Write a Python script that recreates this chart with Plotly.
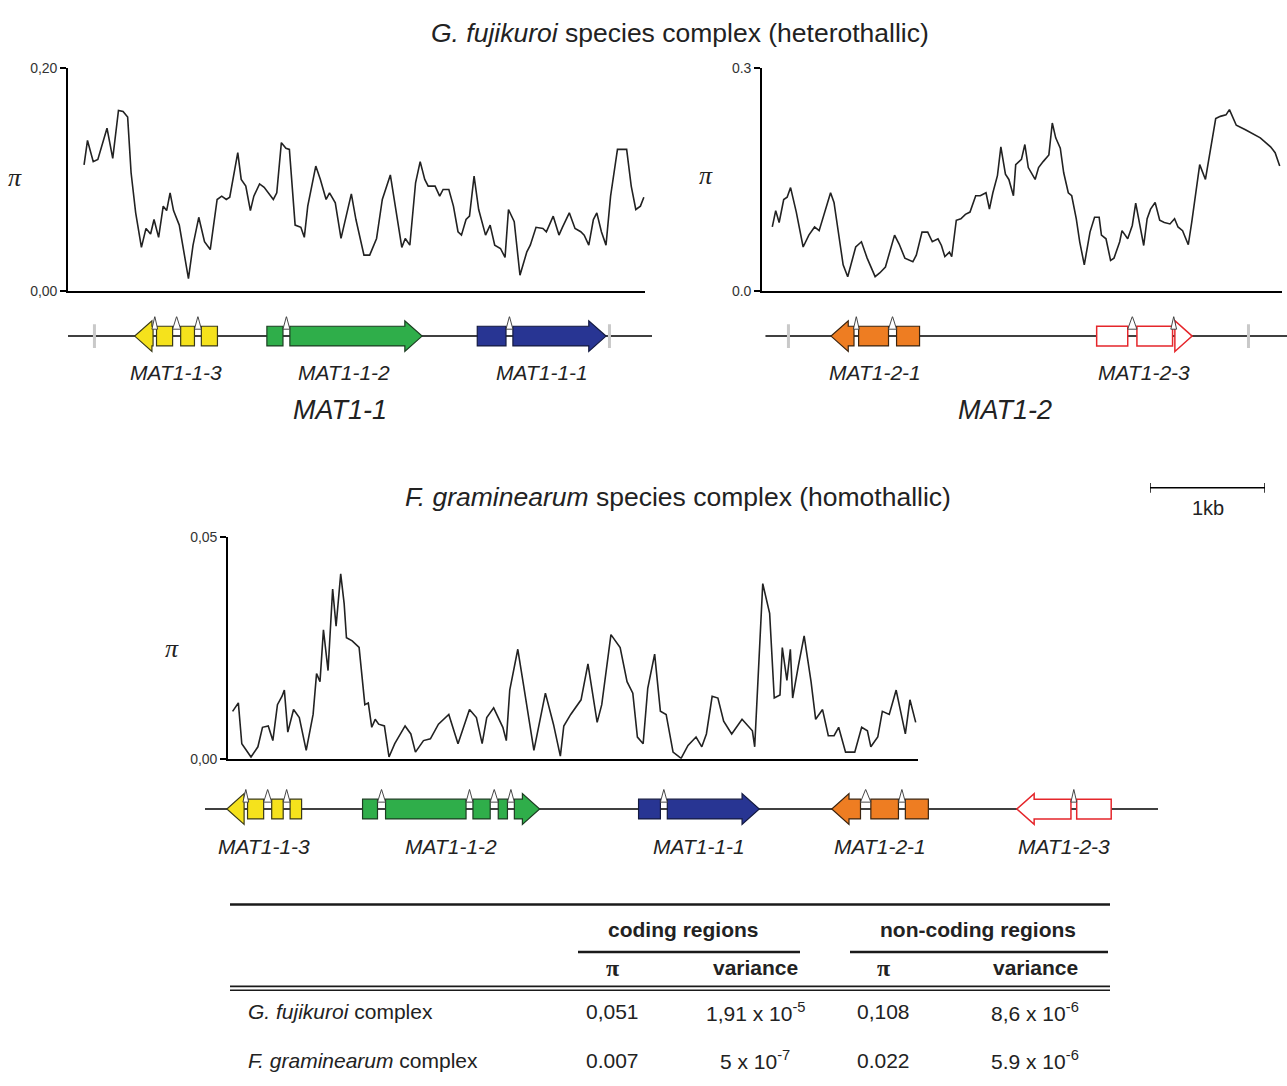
import plotly.graph_objects as go

W, H = 1287, 1086

# ---------------- nucleotide diversity (position in kb, pi) ----------------
gf_mat11_pos = [0.14,0.17,0.22,0.26,0.34,0.39,0.44,0.48,0.52,0.55,
                0.59,0.64,0.68,0.72,0.75,0.79,0.83,0.86,0.89,0.92,
                0.97,1.05,1.09,1.14,1.19,1.24,1.30,1.34,1.38,1.41,
                1.48,1.51,1.55,1.59,1.62,1.67,1.71,1.75,1.79,1.82,
                1.86,1.90,1.93,1.98,2.03,2.06,2.09,2.16,2.20,2.25,
                2.28,2.33,2.38,2.47,2.51,2.58,2.63,2.69,2.74,2.81,
                2.87,2.91,2.94,2.98,3.03,3.07,3.11,3.14,3.20,3.24,
                3.27,3.32,3.36,3.40,3.43,3.47,3.50,3.54,3.58,3.62,
                3.64,3.68,3.72,3.77,3.81,3.84,3.89,3.94,4.00,4.03,
                4.08,4.14,4.17,4.23,4.28,4.31,4.37,4.42,4.47,4.50,
                4.54,4.58,4.61,4.65,4.69,4.73,4.79,4.85,4.87,4.91,
                4.95,4.99,5.02]
gf_mat11_pi = [0.113,0.135,0.116,0.118,0.146,0.119,0.162,0.161,0.156,0.106,
               0.070,0.039,0.056,0.051,0.064,0.048,0.076,0.072,0.088,0.072,
               0.059,0.011,0.041,0.066,0.044,0.037,0.082,0.085,0.082,0.084,
               0.124,0.100,0.094,0.072,0.085,0.096,0.093,0.088,0.082,0.088,
               0.133,0.128,0.127,0.059,0.057,0.048,0.076,0.112,0.100,0.082,
               0.088,0.079,0.047,0.087,0.064,0.032,0.032,0.047,0.082,0.104,
               0.064,0.039,0.047,0.041,0.097,0.116,0.100,0.094,0.094,0.085,
               0.091,0.091,0.076,0.053,0.050,0.064,0.067,0.103,0.073,0.059,
               0.050,0.059,0.041,0.038,0.030,0.073,0.062,0.014,0.035,0.041,
               0.057,0.056,0.053,0.067,0.050,0.057,0.070,0.056,0.053,0.050,
               0.041,0.064,0.070,0.053,0.041,0.085,0.127,0.127,0.127,0.094,
               0.073,0.076,0.084]

gf_mat12_pos = [0.09,0.12,0.15,0.19,0.22,0.25,0.30,0.33,0.36,0.41,
                0.46,0.50,0.55,0.60,0.63,0.67,0.71,0.75,0.78,0.82,
                0.87,0.92,0.99,1.03,1.08,1.16,1.20,1.25,1.32,1.35,
                1.40,1.45,1.49,1.54,1.57,1.60,1.64,1.66,1.70,1.74,
                1.78,1.82,1.87,1.91,1.96,1.99,2.02,2.06,2.09,2.13,
                2.16,2.20,2.22,2.27,2.30,2.33,2.39,2.42,2.46,2.51,
                2.54,2.57,2.61,2.64,2.68,2.71,2.75,2.78,2.82,2.87,
                2.91,2.95,2.97,3.01,3.05,3.08,3.13,3.15,3.20,3.24,
                3.27,3.30,3.34,3.37,3.40,3.44,3.48,3.52,3.57,3.61,
                3.64,3.68,3.73,3.76,3.80,3.83,3.88,3.92,3.97,4.01,
                4.06,4.09,4.15,4.23,4.30,4.36,4.45,4.49,4.53]
gf_mat12_pi = [0.086,0.108,0.092,0.123,0.126,0.139,0.106,0.083,0.059,0.075,
               0.086,0.081,0.106,0.132,0.119,0.075,0.035,0.019,0.035,0.059,
               0.066,0.044,0.019,0.024,0.032,0.075,0.063,0.044,0.039,0.048,
               0.079,0.079,0.066,0.070,0.061,0.046,0.052,0.046,0.095,0.097,
               0.103,0.106,0.128,0.128,0.132,0.110,0.132,0.155,0.194,0.157,
               0.150,0.128,0.170,0.177,0.197,0.166,0.150,0.166,0.174,0.183,
               0.226,0.206,0.192,0.159,0.132,0.128,0.097,0.066,0.035,0.079,
               0.099,0.099,0.075,0.070,0.041,0.044,0.066,0.081,0.070,0.088,
               0.118,0.092,0.061,0.097,0.110,0.119,0.095,0.092,0.090,0.097,
               0.086,0.081,0.062,0.092,0.141,0.170,0.150,0.186,0.232,0.235,
               0.237,0.244,0.223,0.217,0.211,0.206,0.194,0.186,0.168]

fg_pos = [0.04,0.09,0.12,0.17,0.20,0.26,0.30,0.35,0.39,0.43,
          0.47,0.49,0.52,0.57,0.62,0.68,0.74,0.77,0.80,0.83,
          0.87,0.91,0.94,0.98,1.01,1.03,1.08,1.14,1.19,1.22,
          1.25,1.28,1.31,1.36,1.40,1.45,1.50,1.54,1.59,1.63,
          1.70,1.76,1.83,1.92,2.00,2.10,2.16,2.21,2.25,2.31,
          2.39,2.42,2.45,2.52,2.57,2.66,2.76,2.83,2.89,2.92,
          2.98,3.07,3.13,3.21,3.25,3.33,3.41,3.47,3.52,3.56,
          3.61,3.65,3.71,3.76,3.81,3.87,3.94,4.00,4.07,4.12,
          4.16,4.21,4.26,4.31,4.38,4.47,4.56,4.58,4.65,4.71,
          4.75,4.80,4.82,4.86,4.89,4.91,4.96,5.01,5.07,5.11,
          5.17,5.22,5.27,5.31,5.37,5.45,5.51,5.56,5.59,5.65,
          5.69,5.75,5.81,5.85,5.89,5.93,5.98]
fg_pi = [0.0107,0.0126,0.0034,0.0015,0.0004,0.0027,0.0071,0.0074,0.0041,0.0122,
         0.0141,0.0155,0.0060,0.0111,0.0093,0.0019,0.0100,0.0192,0.0174,0.0291,
         0.0199,0.0383,0.0299,0.0417,0.0350,0.0273,0.0266,0.0251,0.0122,0.0126,
         0.0071,0.0089,0.0078,0.0074,0.0004,0.0034,0.0056,0.0074,0.0056,0.0015,
         0.0041,0.0045,0.0078,0.0100,0.0034,0.0111,0.0093,0.0034,0.0093,0.0115,
         0.0071,0.0041,0.0155,0.0247,0.0166,0.0019,0.0148,0.0078,0.0006,0.0074,
         0.0100,0.0133,0.0214,0.0082,0.0122,0.0280,0.0251,0.0174,0.0148,0.0049,
         0.0034,0.0159,0.0236,0.0107,0.0100,0.0015,0.0001,0.0030,0.0049,0.0027,
         0.0056,0.0141,0.0137,0.0085,0.0056,0.0089,0.0063,0.0027,0.0395,0.0328,
         0.0137,0.0144,0.0251,0.0177,0.0247,0.0137,0.0210,0.0277,0.0174,0.0089,
         0.0111,0.0052,0.0052,0.0071,0.0015,0.0015,0.0071,0.0063,0.0027,0.0049,
         0.0107,0.0100,0.0155,0.0104,0.0056,0.0133,0.0082]

gf_mat11_yticks = [0.0, 0.20]
gf_mat11_yticklabels = ["0,00", "0,20"]
gf_mat12_yticks = [0.0, 0.3]
gf_mat12_yticklabels = ["0.0", "0.3"]
fg_yticks = [0.0, 0.05]
fg_yticklabels = ["0,00", "0,05"]

# ---------------- gene models (kb) ----------------
mat11_locus_span = [0.0, 5.08]
mat11_flank_marks = [0.23, 4.71]
mat11_gene_names = ["MAT1-1-3", "MAT1-1-2", "MAT1-1-1"]
mat11_gene_strands = [-1, 1, 1]
mat11_gene_exons = [[[0.58, 0.74], [0.77, 0.91], [0.98, 1.10], [1.16, 1.30]],
                    [[1.73, 1.87], [1.93, 3.08]],
                    [[3.56, 3.81], [3.87, 4.68]]]

mat12_locus_span = [0.03, 4.565]
mat12_flank_marks = [0.23, 4.23]
mat12_gene_names = ["MAT1-2-1", "MAT1-2-3"]
mat12_gene_strands = [-1, 1]
mat12_gene_exons = [[[0.60, 0.80], [0.84, 1.10], [1.17, 1.37]],
                    [[2.91, 3.18], [3.26, 3.57], [3.59, 3.74]]]

fg_locus_span = [0.0, 8.287]
fg_flank_marks = []
fg_gene_names = ["MAT1-1-3", "MAT1-1-2", "MAT1-1-1", "MAT1-2-1", "MAT1-2-3"]
fg_gene_strands = [-1, 1, 1, -1, -1]
fg_gene_exons = [[[0.19, 0.34], [0.37, 0.51], [0.58, 0.68], [0.74, 0.84]],
                 [[1.37, 1.50], [1.57, 2.27], [2.33, 2.48], [2.55, 2.63], [2.69, 2.91]],
                 [[3.77, 3.96], [4.02, 4.82]],
                 [[5.45, 5.70], [5.79, 6.03], [6.09, 6.29]],
                 [[7.06, 7.53], [7.58, 7.88]]]

scale_bar_kb = 1.0
scale_bar_label = "1kb"

# ---------------- table ----------------
table_row_labels = ["<i>G. fujikuroi</i> complex", "<i>F. graminearum</i> complex"]
coding_pi = ["0,051", "0.007"]
coding_variance = ["1,91 x 10<sup>-5</sup>", "5 x 10<sup>-7</sup>"]
noncoding_pi = ["0,108", "0.022"]
noncoding_variance = ["8,6 x 10<sup>-6</sup>", "5.9 x 10<sup>-6</sup>"]

# ---------------- styles ----------------
FONT = "Liberation Sans, Arial, sans-serif"
SERIF = "Liberation Serif, Times New Roman, serif"
TXT = "#222222"
gene_style = {
    "MAT1-1-3": dict(fill="#f5e21c", line="#3a3a1a", width=1.2),
    "MAT1-1-2": dict(fill="#2fae4a", line="#1d3d22", width=1.2),
    "MAT1-1-1": dict(fill="#283593", line="#141a40", width=1.2),
    "MAT1-2-1": dict(fill="#ee7d22", line="#3a2410", width=1.2),
    "MAT1-2-3": dict(fill="#ffffff", line="#e5262b", width=1.5),
}


def px(x):
    return x / W


def py(y):
    return 1 - y / H


fig = go.Figure()

# ---------------- diversity plots ----------------
for xs, ys, xa, ya in ((gf_mat11_pos, gf_mat11_pi, "x", "y"),
                       (gf_mat12_pos, gf_mat12_pi, "x2", "y2"),
                       (fg_pos, fg_pi, "x3", "y3")):
    fig.add_trace(go.Scatter(x=xs, y=ys, mode="lines",
                             line=dict(color="#222222", width=1.6), xaxis=xa, yaxis=ya,
                             showlegend=False, hoverinfo="skip"))

xax = dict(showline=True, linecolor="black", linewidth=1.6, ticks="", showticklabels=False,
           showgrid=False, zeroline=False, fixedrange=True)
yax = dict(showline=True, linecolor="black", linewidth=1.6, ticks="outside", ticklen=6,
           tickwidth=1.5, tickcolor="black", showgrid=False, zeroline=False, fixedrange=True,
           tickfont=dict(family=FONT, size=14, color="#333333"))

layout_axes = dict(
    xaxis=dict(xax, domain=[px(68), px(645)], range=[0, 5.03], anchor="y"),
    yaxis=dict(yax, domain=[py(287), py(61)], range=[0, 0.20], anchor="x",
               tickvals=gf_mat11_yticks, ticktext=gf_mat11_yticklabels),
    xaxis2=dict(xax, domain=[px(762), px(1282)], range=[0, 4.55], anchor="y2"),
    yaxis2=dict(yax, domain=[py(287), py(61)], range=[0, 0.3], anchor="x2",
                tickvals=gf_mat12_yticks, ticktext=gf_mat12_yticklabels),
    xaxis3=dict(xax, domain=[px(228), px(918)], range=[0, 6.0], anchor="y3"),
    yaxis3=dict(yax, domain=[py(762), py(537)], range=[0, 0.05], anchor="x3",
                tickvals=fg_yticks, ticktext=fg_yticklabels),
)

hidden = dict(visible=False, fixedrange=True, showgrid=False, zeroline=False,
              showticklabels=False, ticks="", showline=False)
layout_axes.update(
    xaxis4=dict(hidden, domain=[px(68), px(652)], range=[0, 5.08], anchor="y4"),
    yaxis4=dict(hidden, domain=[py(353), py(313)], range=[-1, 1], anchor="x4"),
    xaxis5=dict(hidden, domain=[px(762), px(1287)], range=[0, 4.565], anchor="y5"),
    yaxis5=dict(hidden, domain=[py(353), py(313)], range=[-1, 1], anchor="x5"),
    xaxis6=dict(hidden, domain=[px(205), px(1158)], range=[0, 8.287], anchor="y6"),
    yaxis6=dict(hidden, domain=[py(833), py(793)], range=[-1, 1], anchor="x6"),
    xaxis7=dict(hidden, domain=[px(1150), px(1265)], range=[0, 1.0], anchor="y7"),
    yaxis7=dict(hidden, domain=[py(497), py(477)], range=[-1, 1], anchor="x7"),
)

shapes = []
annotations = []

# ---------------- gene diagrams ----------------
HEAD = 0.15
BOX_H = 0.5
HEAD_H = 0.78
SPIKE_TOP = 1.0


def exon_path(s, e, strand):
    head = min(HEAD, e - s)
    h, hh = BOX_H, HEAD_H
    if strand > 0:
        b = e - head
        if b - s > 1e-6:
            pts = [(s, -h), (b, -h), (b, -hh), (e, 0), (b, hh), (b, h), (s, h)]
        else:
            pts = [(s, -hh), (e, 0), (s, hh)]
    else:
        b = s + head
        if e - b > 1e-6:
            pts = [(e, -h), (b, -h), (b, -hh), (s, 0), (b, hh), (b, h), (e, h)]
        else:
            pts = [(e, -hh), (s, 0), (e, hh)]
    return "M " + " L ".join(f"{x:.4f},{y:.4f}" for x, y in pts) + " Z"


def draw_track(xr, yr, span, flanks, names, strands, exons, label_y):
    shapes.append(dict(type="line", xref=xr, yref=yr, x0=span[0], x1=span[1], y0=0, y1=0,
                       line=dict(color="black", width=1.5)))
    for f in flanks:
        shapes.append(dict(type="line", xref=xr, yref=yr, x0=f, x1=f, y0=-0.6, y1=0.6,
                           line=dict(color="#c9c9c9", width=3)))
    for name, strand, ex in zip(names, strands, exons):
        st = gene_style[name]
        arrow_idx = len(ex) - 1 if strand > 0 else 0
        for i, (s, e) in enumerate(ex):
            if i == arrow_idx:
                shapes.append(dict(type="path", xref=xr, yref=yr, path=exon_path(s, e, strand),
                                   fillcolor=st["fill"], line=dict(color=st["line"], width=st["width"])))
            else:
                shapes.append(dict(type="rect", xref=xr, yref=yr, x0=s, x1=e, y0=-BOX_H, y1=BOX_H,
                                   fillcolor=st["fill"], line=dict(color=st["line"], width=st["width"])))
        for i in range(len(ex) - 1):
            a, b = ex[i][1], ex[i + 1][0]
            mid = (a + b) / 2
            w = max((b - a) / 2, 0.025)
            shapes.append(dict(type="path", xref=xr, yref=yr,
                               path=f"M {mid - w:.4f},{BOX_H - 0.15} L {mid:.4f},{SPIKE_TOP} L {mid + w:.4f},{BOX_H - 0.15} Z",
                               fillcolor="white", line=dict(color="#333333", width=0.9)))
        center = (ex[0][0] + ex[-1][1]) / 2
        annotations.append(dict(text=f"<i>{name}</i>", xref=xr, yref="paper", x=center,
                                y=py(label_y), xanchor="center", yanchor="middle", showarrow=False,
                                font=dict(family=FONT, size=21, color=TXT)))


draw_track("x4", "y4", mat11_locus_span, mat11_flank_marks, mat11_gene_names,
           mat11_gene_strands, mat11_gene_exons, 370)
draw_track("x5", "y5", mat12_locus_span, mat12_flank_marks, mat12_gene_names,
           mat12_gene_strands, mat12_gene_exons, 370)
draw_track("x6", "y6", fg_locus_span, fg_flank_marks, fg_gene_names,
           fg_gene_strands, fg_gene_exons, 851)

# scale bar
shapes.append(dict(type="line", xref="x7", yref="y7", x0=0, x1=scale_bar_kb, y0=0, y1=0,
                   line=dict(color="black", width=1.5)))
for xv in (0, scale_bar_kb):
    shapes.append(dict(type="line", xref="x7", yref="y7", x0=xv, x1=xv, y0=-0.5, y1=0.5,
                       line=dict(color="black", width=1.5)))
annotations.append(dict(text=scale_bar_label, xref="x7", yref="paper", x=scale_bar_kb / 2,
                        y=py(507), showarrow=False, xanchor="center", yanchor="middle",
                        font=dict(family=FONT, size=20, color=TXT)))


def ann(text, x, y, size=17, xanchor="center", family=FONT, color=TXT):
    annotations.append(dict(text=text, xref="paper", yref="paper", x=px(x), y=py(y),
                            xanchor=xanchor, yanchor="middle", showarrow=False,
                            font=dict(family=family, size=size, color=color)))


# titles
ann("<i>G. fujikuroi</i> species complex (heterothallic)", 680, 25, size=26.5)
ann("<i>F. graminearum</i> species complex (homothallic)", 678, 496, size=26.5)

# locus labels
ann("<i>MAT1-1</i>", 340, 408, size=27)
ann("<i>MAT1-2</i>", 1005, 408, size=27)

# pi axis labels
ann("<i>π</i>", 15, 172, size=26, family=SERIF)
ann("<i>π</i>", 706, 170, size=26, family=SERIF)
ann("<i>π</i>", 172, 650, size=26, family=SERIF)

# ---------------- table ----------------
def hline(x0, x1, y, w):
    shapes.append(dict(type="line", xref="paper", yref="paper", x0=px(x0), x1=px(x1),
                       y0=py(y), y1=py(y), line=dict(color="#1a1a1a", width=w)))


hline(230, 1110, 910, 2.5)
hline(578, 800, 958, 2.5)
hline(850, 1108, 958, 2.5)
hline(230, 1110, 993, 1.6)
hline(230, 1110, 997, 1.6)

ann("<b>coding regions</b>", 683, 935, size=21)
ann("<b>non-coding regions</b>", 978, 935, size=21)
ann("<b>π</b>", 612, 974, size=24, family=SERIF)
ann("<b>variance</b>", 755, 974, size=21)
ann("<b>π</b>", 883, 974, size=24, family=SERIF)
ann("<b>variance</b>", 1035, 974, size=21)

row_y = [1019, 1068]
for lab, c1, c2, c3, c4, yy in zip(table_row_labels, coding_pi, coding_variance,
                                   noncoding_pi, noncoding_variance, row_y):
    ann(lab, 246, yy, size=21, xanchor="left")
    ann(c1, 612, yy, size=21)
    ann(c2, 755, yy, size=21)
    ann(c3, 883, yy, size=21)
    ann(c4, 1035, yy, size=21)

fig.update_layout(
    width=W, height=H, autosize=False,
    margin=dict(l=0, r=0, t=0, b=0),
    paper_bgcolor="white", plot_bgcolor="white",
    showlegend=False,
    shapes=shapes, annotations=annotations,
    font=dict(family=FONT, color=TXT),
    **layout_axes,
)

fig.write_html("out.html", config={"displayModeBar": False},
               post_script="document.body.style.margin='0';")
